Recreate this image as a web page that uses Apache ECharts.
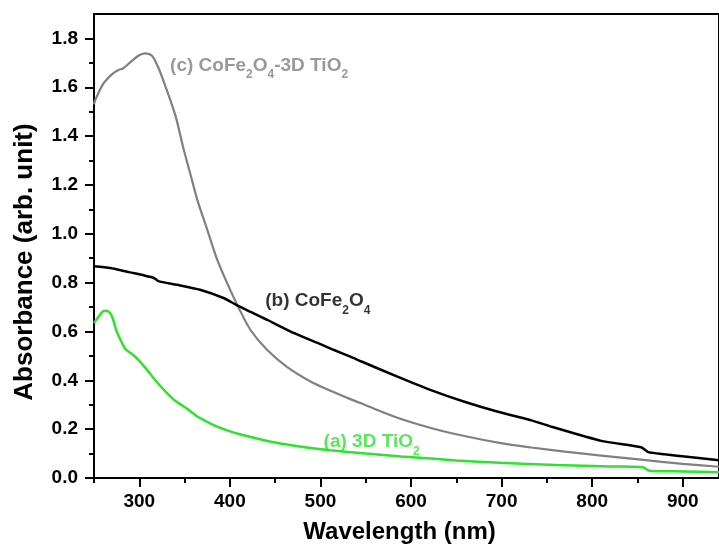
<!DOCTYPE html>
<html>
<head>
<meta charset="utf-8">
<script src="https://cdn.jsdelivr.net/npm/echarts@6/dist/echarts.min.js"></script>
<style>
  html, body { margin: 0; padding: 0; background: #fff; }
  #main { width: 719px; height: 550px; }
</style>
</head>
<body>
<div id="main"></div>
<script>
// (a) 3D TiO2
const wlA = [250, 255, 260, 264, 268, 271, 275, 280, 284, 288, 292, 300, 307, 320, 330, 340, 353, 365, 375, 386, 397, 410, 423, 450, 475, 511, 550, 589, 622, 650, 699, 760, 820, 856, 863, 900, 940];
const absA = [0.635, 0.66, 0.683, 0.685, 0.675, 0.65, 0.6, 0.56, 0.53, 0.518, 0.508, 0.48, 0.45, 0.39, 0.35, 0.315, 0.283, 0.25, 0.23, 0.21, 0.195, 0.18, 0.168, 0.145, 0.13, 0.114, 0.1, 0.088, 0.08, 0.072, 0.062, 0.053, 0.047, 0.044, 0.03, 0.027, 0.024];
// (b) CoFe2O4
const wlB = [250, 268, 290, 305, 314, 318, 321, 342, 367, 393, 407, 423, 441, 471, 500, 515, 533, 546, 585, 622, 659, 696, 733, 755, 810, 854, 862, 880, 902, 940];
const absB = [0.867, 0.86, 0.842, 0.83, 0.822, 0.815, 0.806, 0.791, 0.771, 0.737, 0.709, 0.68, 0.648, 0.593, 0.548, 0.524, 0.497, 0.476, 0.415, 0.36, 0.312, 0.271, 0.236, 0.21, 0.152, 0.126, 0.106, 0.097, 0.088, 0.073];
// (c) CoFe2O4-3D TiO2
const wlC = [250, 251, 260, 270, 277, 282, 290, 299, 306, 314, 321, 330, 340, 349, 356, 364, 375, 386, 397, 410, 423, 441, 463, 489, 511, 533, 548, 585, 622, 659, 699, 733, 770, 810, 854, 900, 940];
const absC = [1.53, 1.544, 1.613, 1.654, 1.671, 1.677, 1.702, 1.729, 1.739, 1.729, 1.681, 1.592, 1.483, 1.346, 1.25, 1.14, 1.017, 0.894, 0.798, 0.695, 0.605, 0.525, 0.455, 0.395, 0.357, 0.323, 0.301, 0.247, 0.205, 0.172, 0.143, 0.125, 0.108, 0.092, 0.075, 0.058, 0.046];

const xMajor = [300, 400, 500, 600, 700, 800, 900];
const xMinor = [250, 350, 450, 550, 650, 750, 850];
const yMajor = [0, 0.2, 0.4, 0.6, 0.8, 1.0, 1.2, 1.4, 1.6, 1.8];
const yMinor = [0.1, 0.3, 0.5, 0.7, 0.9, 1.1, 1.3, 1.5, 1.7];

// curve labels: anchor (wavelength, absorbance), text
const labelWl = [334, 439, 503.5];
const labelAbs = [1.689, 0.724, 0.148];
const labelText = [
  '{g|(c) CoFe}{gs|2}{g|O}{gs|4}{g|-3D TiO}{gs|2}',
  '{k|(b) CoFe}{ks|2}{k|O}{ks|4}',
  '{a|(a) 3D TiO}{as|2}'
];

const GREEN = '#2fe22f';
const GRAY = '#808080';
const FONT = '"Liberation Sans", Arial, sans-serif';

function pairs(xs, ys) {
  return xs.map((x, i) => [x, ys[i]]);
}
function main(c) {
  return { color: c, fontSize: 19, fontWeight: 'bold', fontFamily: FONT, lineHeight: 19, verticalAlign: 'top' };
}
function sub(c) {
  return { color: c, fontSize: 12, fontWeight: 'bold', fontFamily: FONT, lineHeight: 12, verticalAlign: 'top', padding: [13, 0, 0, 0] };
}

const chart = echarts.init(document.getElementById('main'), null, { renderer: 'canvas' });

const baseX = {
  type: 'value', min: 250, max: 940, interval: 50, position: 'bottom',
  splitLine: { show: false },
  axisLine: { show: true, onZero: false, lineStyle: { color: '#000', width: 2 } }
};
const baseY = {
  type: 'value', min: 0, max: 1.9, interval: 0.1, position: 'left',
  splitLine: { show: false },
  axisLine: { show: true, onZero: false, lineStyle: { color: '#000', width: 2 } }
};

chart.setOption({
  animation: false,
  backgroundColor: '#fff',
  grid: {
    left: 94, right: 0, top: 14, bottom: 72,
    show: true, borderColor: '#000', borderWidth: 2, backgroundColor: 'transparent'
  },
  xAxis: [
    Object.assign({}, baseX, {
      name: 'Wavelength (nm)',
      nameLocation: 'middle',
      nameGap: 42,
      nameTextStyle: { fontSize: 24, fontWeight: 'bold', fontFamily: FONT, color: '#000', padding: [0, 14, 0, 0] },
      axisTick: { show: true, customValues: xMajor, length: 9, lineStyle: { color: '#000', width: 2 } },
      axisLabel: { customValues: xMajor, margin: 14, fontSize: 19, fontWeight: 'bold', fontFamily: FONT, color: '#000' }
    }),
    Object.assign({}, baseX, {
      axisTick: { show: true, customValues: xMinor, length: 5, lineStyle: { color: '#000', width: 2 } },
      axisLabel: { show: false }
    })
  ],
  yAxis: [
    Object.assign({}, baseY, {
      name: 'Absorbance (arb. unit)',
      nameLocation: 'middle',
      nameGap: 56,
      nameTextStyle: { fontSize: 26, fontWeight: 'bold', fontFamily: FONT, color: '#000', padding: [0, 32, 0, 0] },
      axisTick: { show: true, customValues: yMajor, length: 9, lineStyle: { color: '#000', width: 2 } },
      axisLabel: {
        customValues: yMajor, margin: 16, fontSize: 19, fontWeight: 'bold', fontFamily: FONT, color: '#000',
        formatter: v => v.toFixed(1)
      }
    }),
    Object.assign({}, baseY, {
      axisTick: { show: true, customValues: yMinor, length: 5, lineStyle: { color: '#000', width: 2 } },
      axisLabel: { show: false }
    })
  ],
  series: [
    {
      name: 'c', type: 'line', xAxisIndex: 0, yAxisIndex: 0,
      data: pairs(wlC, absC), showSymbol: false, smooth: 0.3,
      lineStyle: { color: GRAY, width: 2.2 }
    },
    {
      name: 'b', type: 'line', xAxisIndex: 0, yAxisIndex: 0,
      data: pairs(wlB, absB), showSymbol: false, smooth: 0.2,
      lineStyle: { color: '#000', width: 2.5 }
    },
    {
      name: 'a', type: 'line', xAxisIndex: 0, yAxisIndex: 0,
      data: pairs(wlA, absA), showSymbol: false, smooth: 0.2,
      lineStyle: { color: GREEN, width: 2.5 }
    },
    {
      name: 'labels', type: 'scatter', xAxisIndex: 0, yAxisIndex: 0,
      symbolSize: 0, silent: true,
      data: labelWl.map((x, i) => ({ value: [x, labelAbs[i]], text: labelText[i] })),
      label: {
        show: true, position: 'right', distance: 0,
        formatter: p => p.data.text,
        rich: {
          g: main(GRAY), gs: sub(GRAY),
          k: main('#000'), ks: sub('#000'),
          a: main(GREEN), as: sub(GREEN)
        }
      }
    }
  ]
});
</script>
</body>
</html>
